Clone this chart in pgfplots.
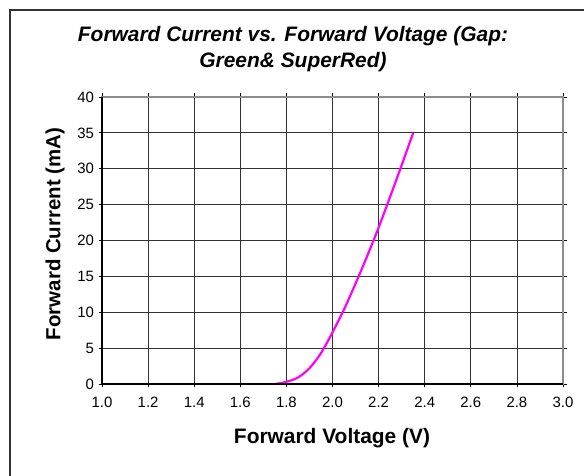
\documentclass[border=0pt]{standalone}
\usepackage{pgfplots}
\pgfplotsset{compat=1.18}
\usepackage{fontspec}
\setmainfont{Liberation Sans}
\definecolor{curve}{HTML}{FF00FF}
\begin{document}
\begin{tikzpicture}[x=1bp,y=1bp]
\path[use as bounding box] (0,0) rectangle (584,476);
\draw[line width=1.2bp, black!80] (10,0) -- (10,466) -- (584,466);
\node[font=\fontsize{21}{26}\selectfont\bfseries\itshape, align=center] at (293,427)
  {Forward Current vs. Forward Voltage (Gap:\\ Green\& SuperRed)};
\begin{axis}[
  at={(102bp,92bp)}, anchor=south west,
  scale only axis, width=461bp, height=287bp,
  xmin=1, xmax=3, ymin=0, ymax=40,
  xtick={1.0,1.2,...,3.01}, ytick={0,5,...,40},
  xticklabel style={yshift=-6bp, /pgf/number format/.cd, fixed, fixed zerofill, precision=1},
  /pgf/number format/assume math mode=true,
  ticklabel style={font=\fontsize{15}{17}\selectfont},
  yticklabel style={xshift=-1bp},
  tick align=outside, major tick length=3.5bp,
  tick style={black, line width=0.8bp},
  grid=major, major grid style={black!80, line width=0.8bp},
  axis line style={black!45, line width=1.8bp},
  xlabel={}, ylabel={},
  clip=false,
]
\addplot[curve, line width=2.2bp, smooth] coordinates {
(1.75,0) (1.8,0.3) (1.85,0.9) (1.9,2.2) (1.95,4.3) (2.0,7.2) (2.05,10.4)
(2.1,14.0) (2.15,17.8) (2.2,21.8) (2.25,26.1) (2.3,30.5) (2.35,35)
};
\draw[black, line width=1.6bp] (rel axis cs:0,1) -- (rel axis cs:0,0) -- (rel axis cs:1,0);
\end{axis}
\node[font=\fontsize{21}{25}\selectfont\bfseries] at (332,38) {Forward Voltage (V)};
\node[font=\fontsize{20.5}{25}\selectfont\bfseries, rotate=90] at (55,242) {Forward Current (mA)};
\end{tikzpicture}
\end{document}
